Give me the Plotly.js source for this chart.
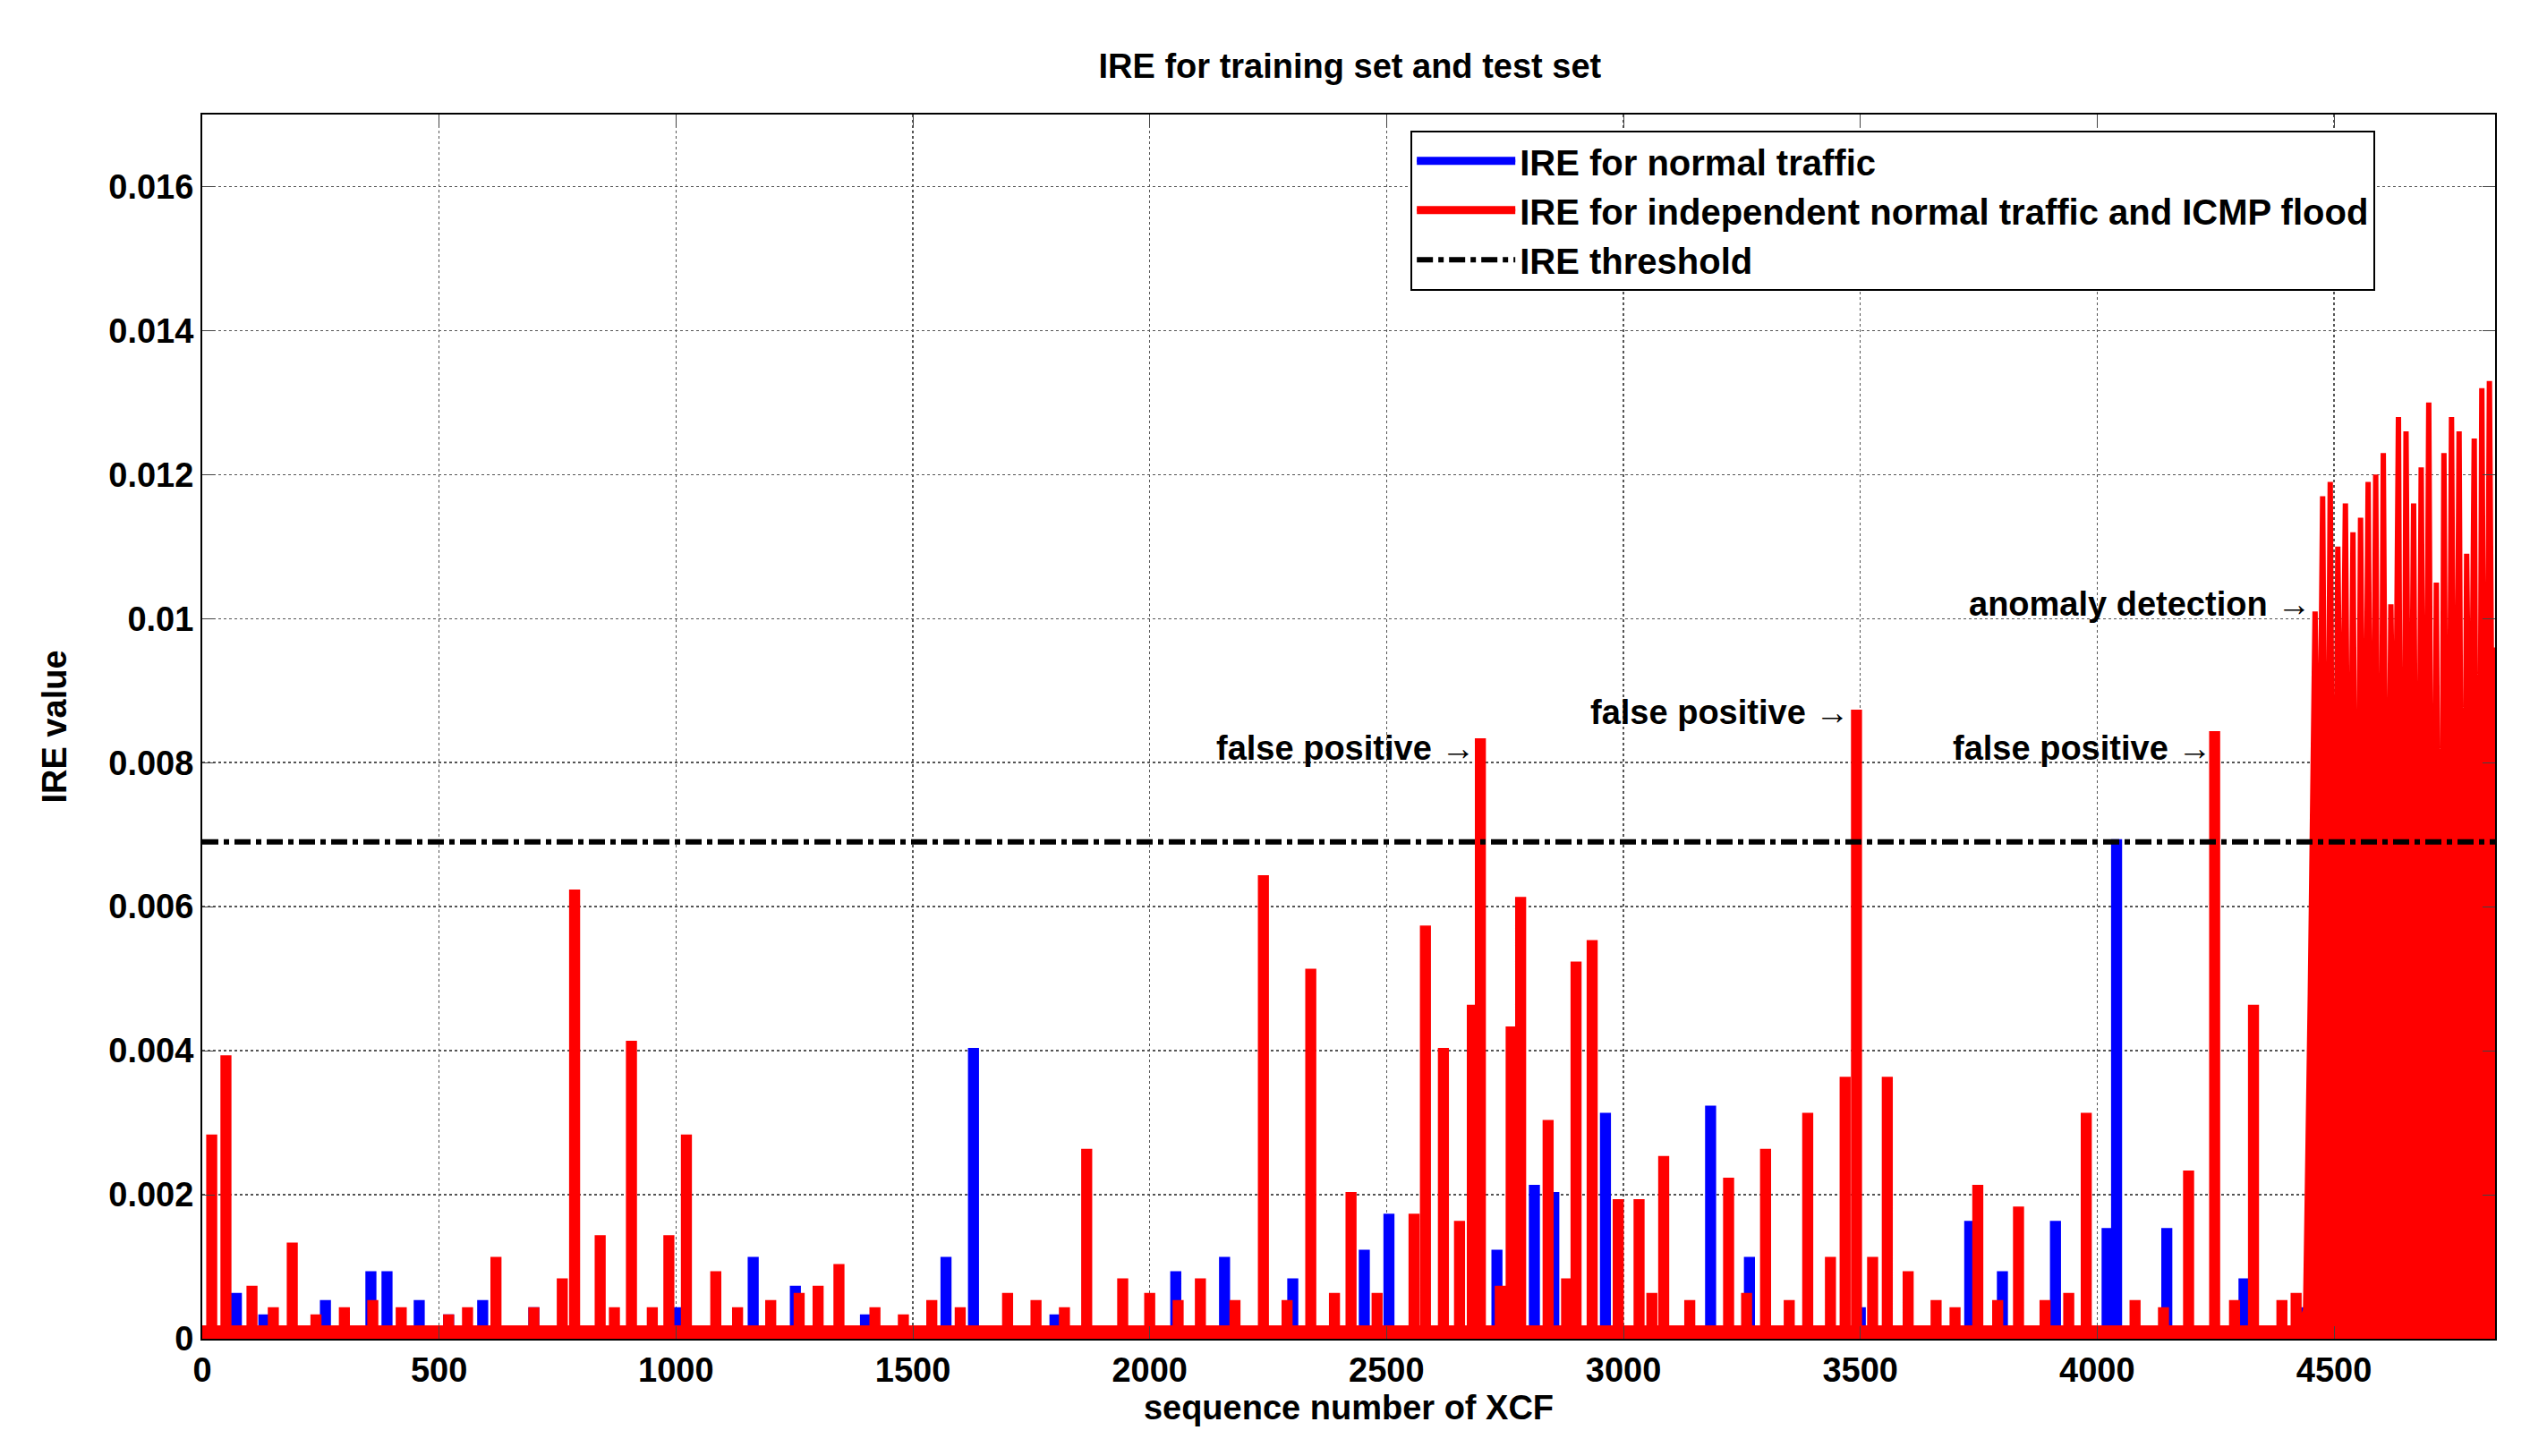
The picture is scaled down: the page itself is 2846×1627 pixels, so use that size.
<!DOCTYPE html>
<html><head><meta charset="utf-8">
<script src="https://cdn.plot.ly/plotly-3.0.1.min.js"></script>
<style>body{margin:0;background:#fff}#chart{width:2846px;height:1627px}</style>
</head><body><div id="chart"></div>
<script>
// spikes: [sequence number, IRE]
const redSpikes = [
  [20,0.0028],[50,0.0039],[105,0.0007],[150,0.0004],[190,0.0013],[240,0.0003],[300,0.0004],[360,0.0005],
  [420,0.0004],[520,0.0003],[560,0.0004],[620,0.0011],[700,0.0004],[760,0.0008],[786,0.0062],[840,0.0014],
  [870,0.0004],[906,0.0041],[950,0.0004],[985,0.0014],[1022,0.0028],[1084,0.0009],[1130,0.0004],[1200,0.0005],
  [1260,0.0006],[1300,0.0007],[1344,0.0010],[1420,0.0004],[1480,0.0003],[1540,0.0005],[1600,0.0004],[1700,0.0006],
  [1760,0.0005],[1820,0.0004],[1867,0.0026],[1943,0.0008],[2000,0.0006],[2060,0.0005],[2107,0.0008],[2180,0.0005],
  [2240,0.0064],[2290,0.0005],[2340,0.0051],[2390,0.0006],[2425,0.0020],[2480,0.0006],[2558,0.0017],[2582,0.0057],
  [2620,0.0040],[2654,0.0016],[2681,0.0046],[2698,0.0083],[2740,0.0007],[2763,0.0043],[2783,0.0061],[2841,0.0030],
  [2880,0.0008],[2900,0.0052],[2934,0.0055],[2989,0.0019],[3033,0.0019],[3060,0.0006],[3085,0.0025],[3140,0.0005],
  [3222,0.0022],[3260,0.0006],[3300,0.0026],[3350,0.0005],[3389,0.0031],[3437,0.0011],[3468,0.0036],[3492,0.0087],
  [3526,0.0011],[3557,0.0036],[3601,0.0009],[3660,0.0005],[3700,0.0004],[3748,0.0021],[3790,0.0005],[3834,0.0018],
  [3890,0.0005],[3940,0.0006],[3977,0.0031],[4080,0.0005],[4140,0.0004],[4193,0.0023],[4248,0.0084],[4290,0.0005],
  [4330,0.0046],[4390,0.0005],[4420,0.0006]
];
const floodX = [4440,4450,4460,4468,4476,4484,4492,4500,4508,4516,4524,4532,4540,4548,4556,4564,4572,4580,4588,4596,4604,4612,4620,4628,4636,4644,4652,4660,4668,4676,4684,4692,4700,4708,4716,4724,4732,4740,4748,4756,4764,4772,4780,4788,4796,4804,4812,4820,4828,4836,4840];
const floodY = [0.0004,0.0048,0.0101,0.0060,0.0117,0.0035,0.0119,0.0027,0.0110,0.0062,0.0116,0.0040,0.0112,0.0025,0.0114,0.0050,0.0119,0.0042,0.0120,0.0021,0.0123,0.0035,0.0102,0.0060,0.0128,0.0010,0.0126,0.0048,0.0116,0.0025,0.0121,0.0040,0.0130,0.0020,0.0105,0.0006,0.0123,0.0030,0.0128,0.0040,0.0126,0.0017,0.0109,0.0060,0.0125,0.0005,0.0132,0.0038,0.0133,0.0060,0.0096];
const blueSpikes = [
  [72,0.0006],[130,0.0003],[260,0.0005],[356,0.0009],[390,0.0009],[458,0.0005],[520,0.0003],[592,0.0005],
  [700,0.0004],[1000,0.0004],[1163,0.0011],[1252,0.0007],[1400,0.0003],[1570,0.0011],[1628,0.0040],[1800,0.0003],
  [2055,0.0009],[2158,0.0011],[2302,0.0008],[2453,0.0012],[2505,0.0017],[2733,0.0012],[2812,0.0021],[2853,0.0020],
  [2962,0.0031],[3184,0.0032],[3266,0.0011],[3500,0.0004],[3731,0.0016],[3800,0.0009],[3912,0.0016],[4021,0.0015],
  [4041,0.0069],[4147,0.0015],[4310,0.0008],[4433,0.0004],[4520,0.0002],[4580,0.0003],[4628,0.0012],[4700,0.0003],[4780,0.0002],[4830,0.0002]
];
const threshold = 0.0069;
const yTicks = [0,0.002,0.004,0.006,0.008,0.01,0.012,0.014,0.016];
const yTickText = ["0","0.002","0.004","0.006","0.008","0.01","0.012","0.014","0.016"];
const xTicks = [0,500,1000,1500,2000,2500,3000,3500,4000,4500];

function stems(spikes, base, w) {
  const x = [0], y = [base];
  spikes.forEach(([sx, sy]) => { x.push(sx - w, sx - w, sx + w, sx + w); y.push(base, sy, sy, base); });
  return {x, y};
}
const red = stems(redSpikes, 0.00015, 6);
red.x.push(...floodX); red.y.push(...floodY);
const blue = stems(blueSpikes, 0.0001, 6);
blue.x.push(4840); blue.y.push(0.0002);

const F = "Liberation Sans, Arial, sans-serif";
const traces = [
  {x: blue.x, y: blue.y, mode: "lines", fill: "tozeroy", fillcolor: "#0000ff", line: {color: "#0000ff", width: 6}, name: "<b>IRE for normal traffic</b>"},
  {x: red.x, y: red.y, mode: "lines", fill: "tozeroy", fillcolor: "#ff0000", line: {color: "#ff0000", width: 6}, name: "<b>IRE for independent normal traffic and ICMP flood</b>"},
  {x: [0, 4840], y: [threshold, threshold], mode: "lines", line: {color: "#000", width: 6, dash: "dashdot"}, name: "<b>IRE threshold</b>"}
];
const ann = (x, y, t) => ({x, y, text: "<b>" + t + "</b> →", showarrow: false, xanchor: "right", yanchor: "middle", font: {family: F, size: 38, color: "#000"}});
const layout = {
  width: 2846, height: 1627, paper_bgcolor: "#fff", plot_bgcolor: "#fff",
  margin: {l: 226, r: 58, t: 128, b: 131},
  title: {text: "<b>IRE for training set and test set</b>", font: {family: F, size: 38, color: "#000"}, x: 0.53, y: 0.955, yanchor: "middle"},
  font: {family: F, color: "#000"},
  xaxis: {range: [0, 4840], tickvals: xTicks, ticktext: xTicks.map(v => "<b>" + v + "</b>"), tickfont: {size: 38, family: F},
    ticks: "inside", ticklen: 14, mirror: "ticks", showline: true, linecolor: "#000", linewidth: 2,
    showgrid: true, gridcolor: "#555", griddash: "dot", gridwidth: 1.5, zeroline: false,
    title: {text: "<b>sequence number of XCF</b>", font: {size: 38, family: F}, standoff: 8}},
  yaxis: {range: [0, 0.017], tickvals: yTicks, ticktext: yTickText.map(v => "<b>" + v + "</b>"), tickfont: {size: 38, family: F},
    ticks: "inside", ticklen: 14, mirror: "ticks", showline: true, linecolor: "#000", linewidth: 2,
    showgrid: true, gridcolor: "#555", griddash: "dot", gridwidth: 1.5, zeroline: false,
    title: {text: "<b>IRE value</b>", font: {size: 38, family: F}, standoff: 35}},
  legend: {x: 0.527, y: 0.987, xanchor: "left", yanchor: "top", bgcolor: "#fff", bordercolor: "#000", borderwidth: 2,
    font: {family: F, size: 40, color: "#000"}, itemwidth: 110, tracegroupgap: 0, traceorder: "normal"},
  showlegend: true,
  annotations: [
    ann(2690, 0.0082, "false positive"),
    ann(3480, 0.0087, "false positive"),
    ann(4245, 0.0082, "false positive"),
    ann(4455, 0.0102, "anomaly detection")
  ]
};
Plotly.newPlot("chart", traces, layout, {staticPlot: true});
</script></body></html>
